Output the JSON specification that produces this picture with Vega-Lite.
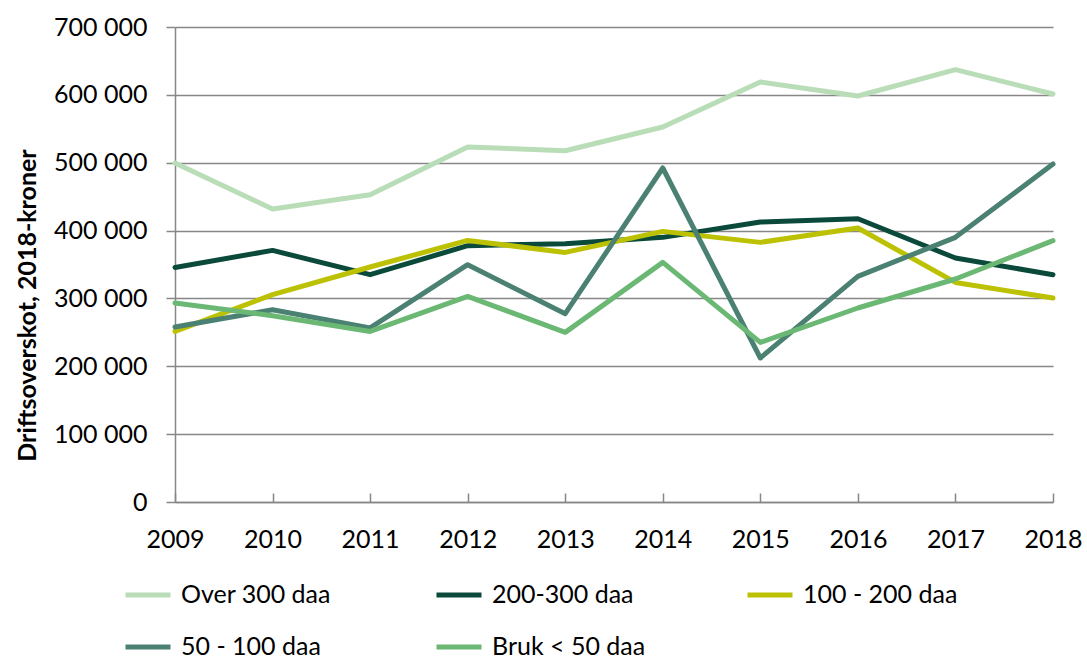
{
  "$schema": "https://vega.github.io/schema/vega-lite/v6.json",
  "autosize": {"type": "none"},
  "width": 878,
  "height": 475,
  "padding": {"left": 175, "top": 27, "right": 34, "bottom": 159},
  "background": "white",
  "config": {
    "locale": {"number": {"decimal": ",", "thousands": " ", "grouping": [3], "currency": ["", " kr"]}},
    "font": "Lato",
    "view": {"stroke": null}
  },
  "data": {
    "values": [
      {"year": "2009", "group": "Over 300 daa", "value": 499600},
      {"year": "2010", "group": "Over 300 daa", "value": 431800},
      {"year": "2011", "group": "Over 300 daa", "value": 452900},
      {"year": "2012", "group": "Over 300 daa", "value": 523200},
      {"year": "2013", "group": "Over 300 daa", "value": 517700},
      {"year": "2014", "group": "Over 300 daa", "value": 552600},
      {"year": "2015", "group": "Over 300 daa", "value": 619000},
      {"year": "2016", "group": "Over 300 daa", "value": 598300},
      {"year": "2017", "group": "Over 300 daa", "value": 637100},
      {"year": "2018", "group": "Over 300 daa", "value": 601300},
      {"year": "2009", "group": "200-300 daa", "value": 345700},
      {"year": "2010", "group": "200-300 daa", "value": 370800},
      {"year": "2011", "group": "200-300 daa", "value": 335000},
      {"year": "2012", "group": "200-300 daa", "value": 377700},
      {"year": "2013", "group": "200-300 daa", "value": 380700},
      {"year": "2014", "group": "200-300 daa", "value": 390000},
      {"year": "2015", "group": "200-300 daa", "value": 412600},
      {"year": "2016", "group": "200-300 daa", "value": 417500},
      {"year": "2017", "group": "200-300 daa", "value": 359600},
      {"year": "2018", "group": "200-300 daa", "value": 335000},
      {"year": "2009", "group": "100 - 200 daa", "value": 251400},
      {"year": "2010", "group": "100 - 200 daa", "value": 305500},
      {"year": "2011", "group": "100 - 200 daa", "value": 346300},
      {"year": "2012", "group": "100 - 200 daa", "value": 385500},
      {"year": "2013", "group": "100 - 200 daa", "value": 367800},
      {"year": "2014", "group": "100 - 200 daa", "value": 398800},
      {"year": "2015", "group": "100 - 200 daa", "value": 382600},
      {"year": "2016", "group": "100 - 200 daa", "value": 403800},
      {"year": "2017", "group": "100 - 200 daa", "value": 323600},
      {"year": "2018", "group": "100 - 200 daa", "value": 300600},
      {"year": "2009", "group": "50 - 100 daa", "value": 257900},
      {"year": "2010", "group": "50 - 100 daa", "value": 283400},
      {"year": "2011", "group": "50 - 100 daa", "value": 256500},
      {"year": "2012", "group": "50 - 100 daa", "value": 349700},
      {"year": "2013", "group": "50 - 100 daa", "value": 277500},
      {"year": "2014", "group": "50 - 100 daa", "value": 492200},
      {"year": "2015", "group": "50 - 100 daa", "value": 212200},
      {"year": "2016", "group": "50 - 100 daa", "value": 332500},
      {"year": "2017", "group": "50 - 100 daa", "value": 390000},
      {"year": "2018", "group": "50 - 100 daa", "value": 498100},
      {"year": "2009", "group": "Bruk < 50 daa", "value": 293300},
      {"year": "2010", "group": "Bruk < 50 daa", "value": 274500},
      {"year": "2011", "group": "Bruk < 50 daa", "value": 251400},
      {"year": "2012", "group": "Bruk < 50 daa", "value": 303000},
      {"year": "2013", "group": "Bruk < 50 daa", "value": 250000},
      {"year": "2014", "group": "Bruk < 50 daa", "value": 353100},
      {"year": "2015", "group": "Bruk < 50 daa", "value": 235200},
      {"year": "2016", "group": "Bruk < 50 daa", "value": 285900},
      {"year": "2017", "group": "Bruk < 50 daa", "value": 328600},
      {"year": "2018", "group": "Bruk < 50 daa", "value": 385100}
    ]
  },
  "mark": {"type": "line", "strokeWidth": 5, "strokeCap": "round", "strokeJoin": "round"},
  "encoding": {
    "x": {
      "field": "year",
      "type": "ordinal",
      "scale": {"type": "point", "padding": 0},
      "axis": {
        "title": null,
        "labelAngle": 0,
        "labelFontSize": 25,
        "labelColor": "#000000",
        "labelPadding": 34,
        "tickSize": -9,
        "tickColor": "#878787",
        "tickWidth": 1.5,
        "domainColor": "#878787",
        "domainWidth": 1.5,
        "grid": false
      }
    },
    "y": {
      "field": "value",
      "type": "quantitative",
      "scale": {"domain": [0, 700000], "nice": false},
      "axis": {
        "title": "Driftsoverskot, 2018-kroner",
        "titleFontSize": 25,
        "titleFontWeight": "bold",
        "titleColor": "#000000",
        "titlePadding": 13,
        "titleY": 278,
        "values": [0, 100000, 200000, 300000, 400000, 500000, 600000, 700000],
        "format": ",d",
        "labelFontSize": 25,
        "labelColor": "#000000",
        "labelPadding": 19,
        "tickSize": 9,
        "tickColor": "#878787",
        "tickWidth": 1.5,
        "domainColor": "#878787",
        "domainWidth": 1.5,
        "gridColor": "#878787",
        "gridWidth": 1.5
      }
    },
    "color": {
      "field": "group",
      "type": "nominal",
      "sort": ["Over 300 daa", "200-300 daa", "100 - 200 daa", "50 - 100 daa", "Bruk < 50 daa"],
      "scale": {
        "domain": ["Over 300 daa", "200-300 daa", "100 - 200 daa", "50 - 100 daa", "Bruk < 50 daa"],
        "range": ["#b9ddb7", "#0b4a3b", "#bcc203", "#4b8172", "#6bb874"]
      },
      "legend": {
        "title": null,
        "orient": "none",
        "legendX": -52,
        "legendY": 543,
        "direction": "horizontal",
        "columns": 3,
        "symbolType": "stroke",
        "symbolSize": 2025,
        "symbolStrokeWidth": 5,
        "labelFontSize": 25,
        "labelColor": "#000000",
        "labelOffset": 8,
        "labelLimit": 300,
        "columnPadding": 90,
        "rowPadding": 14,
        "gridAlign": "all"
      }
    }
  }
}
